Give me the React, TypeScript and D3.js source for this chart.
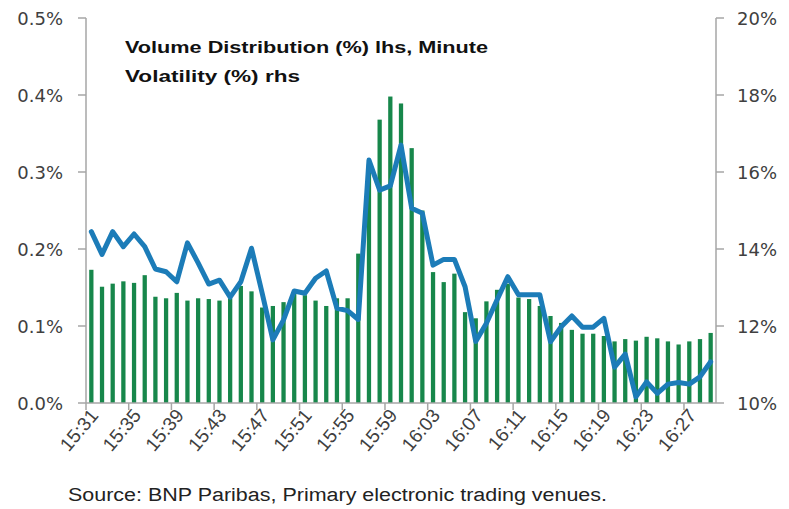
import React from "react";
import * as d3 from "d3";

const minutes: string[] = [
  "15:31","15:32","15:33","15:34","15:35","15:36","15:37","15:38","15:39","15:40",
  "15:41","15:42","15:43","15:44","15:45","15:46","15:47","15:48","15:49","15:50",
  "15:51","15:52","15:53","15:54","15:55","15:56","15:57","15:58","15:59","16:00",
  "16:01","16:02","16:03","16:04","16:05","16:06","16:07","16:08","16:09","16:10",
  "16:11","16:12","16:13","16:14","16:15","16:16","16:17","16:18","16:19","16:20",
  "16:21","16:22","16:23","16:24","16:25","16:26","16:27","16:28","16:29",
];

// Volume distribution (%), left axis
const volume: number[] = [
  0.173, 0.151, 0.155, 0.158, 0.156, 0.166, 0.138, 0.136, 0.143, 0.133,
  0.136, 0.135, 0.133, 0.136, 0.152, 0.145, 0.124, 0.126, 0.131, 0.142,
  0.140, 0.133, 0.126, 0.136, 0.136, 0.194, 0.310, 0.368, 0.398, 0.389,
  0.331, 0.250, 0.170, 0.157, 0.168, 0.118, 0.110, 0.132, 0.147, 0.155,
  0.137, 0.135, 0.126, 0.113, 0.104, 0.095, 0.090, 0.090, 0.087, 0.080,
  0.083, 0.081, 0.086, 0.084, 0.080, 0.076, 0.080, 0.083, 0.091,
];

// Minute volatility (%), right axis
const volatility: number[] = [
  14.45, 13.86, 14.45, 14.06, 14.39, 14.06, 13.48, 13.41, 13.15, 14.16,
  13.64, 13.09, 13.19, 12.75, 13.15, 14.02, 12.85, 11.64, 12.16, 12.91,
  12.85, 13.24, 13.43, 12.46, 12.40, 12.17, 16.31, 15.53, 15.64, 16.70,
  15.06, 14.93, 13.58, 13.73, 13.73, 13.02, 11.60, 12.07, 12.68, 13.28,
  12.81, 12.81, 12.81, 11.59, 11.98, 12.26, 11.97, 11.97, 12.20, 10.93,
  11.27, 10.16, 10.55, 10.25, 10.49, 10.53, 10.49, 10.68, 11.07,
];

const leftTicks: number[] = [0, 0.1, 0.2, 0.3, 0.4, 0.5];
const rightTicks: number[] = [10, 12, 14, 16, 18, 20];

const titleLines: string[] = ["Volume Distribution (%) lhs, Minute", "Volatility (%) rhs"];
const sourceText = "Source: BNP Paribas, Primary electronic trading venues.";

const W = 789, H = 509;
const L = 86, R = 716, T = 18, B = 403;

export default function App() {
  const x = d3.scaleBand<string>().domain(minutes).range([L, R]).paddingInner(0.6).paddingOuter(0.3);
  const yL = d3.scaleLinear().domain([0, 0.5]).range([B, T]);
  const yR = d3.scaleLinear().domain([10, 20]).range([B, T]);
  const step = x.step();
  const bw = x.bandwidth();
  const cx = (m: string) => (x(m) as number) + bw / 2;

  const line = d3.line<number>()
    .x((_, i) => cx(minutes[i]))
    .y((v) => yR(v));

  const labelIdx = minutes.map((_, i) => i).filter((i) => i % 4 === 0);
  const tickPos = labelIdx.map((i) => L + i * step);
  const axisColor = "#A6A6A6";
  const textColor = "#404040";

  return (
    <svg width={W} height={H} style={{ position: "absolute", left: 0, top: 0, background: "#fff" }}
      fontFamily="'DejaVu Sans', sans-serif">
      {/* bars */}
      {volume.map((v, i) => (
        <rect key={i} x={x(minutes[i])} y={yL(v)} width={bw} height={B - yL(v)} fill="#17874B" />
      ))}
      {/* line */}
      <path d={line(volatility) || ""} fill="none" stroke="#1C7CB8" strokeWidth={5} strokeLinejoin="round" strokeLinecap="round" />

      {/* axes */}
      <line x1={L} x2={L} y1={T} y2={B} stroke={axisColor} strokeWidth={1.5} />
      <line x1={R} x2={R} y1={T} y2={B} stroke={axisColor} strokeWidth={1.5} />
      <line x1={L} x2={R} y1={B} y2={B} stroke={axisColor} strokeWidth={1.5} />
      {leftTicks.map((t) => (
        <g key={"l" + t}>
          <line x1={L - 8} x2={L} y1={yL(t)} y2={yL(t)} stroke={axisColor} strokeWidth={1.5} />
          <text x={63} y={yL(t) + 6.5} textAnchor="end" fontSize={18} fill={textColor}>
            {d3.format(".1f")(t) + "%"}
          </text>
        </g>
      ))}
      {rightTicks.map((t) => (
        <g key={"r" + t}>
          <line x1={R} x2={R + 8} y1={yR(t)} y2={yR(t)} stroke={axisColor} strokeWidth={1.5} />
          <text x={737} y={yR(t) + 6.5} textAnchor="start" fontSize={18} fill={textColor}>
            {t + "%"}
          </text>
        </g>
      ))}
      {tickPos.map((p, k) => (
        <line key={"b" + k} x1={p} x2={p} y1={B} y2={B + 7} stroke={axisColor} strokeWidth={1.5} />
      ))}
      {labelIdx.map((i) => {
        const px = cx(minutes[i]) + 8;
        const py = B + 13;
        return (
          <g key={"xl" + i} transform={`translate(${px},${py}) rotate(-50)`}>
            <text x={0} y={0} textAnchor="end" fontSize={19} fill={textColor}
              fontFamily="'Liberation Sans', Arial, sans-serif">
              {minutes[i]}
            </text>
          </g>
        );
      })}

      {/* title */}
      {titleLines.map((t, i) => (
        <text key={"t" + i} x={125} y={53 + i * 29} fontSize={16} fontWeight="bold" fill="#111"
          fontFamily="'Liberation Sans', Arial, sans-serif"
          textLength={i === 0 ? 363 : 175} lengthAdjust="spacingAndGlyphs">
          {t}
        </text>
      ))}
      {/* source */}
      <text x={68} y={501} fontSize={18} fill="#222" fontFamily="'Liberation Sans', Arial, sans-serif"
        textLength={539} lengthAdjust="spacingAndGlyphs">
        {sourceText}
      </text>
    </svg>
  );
}
